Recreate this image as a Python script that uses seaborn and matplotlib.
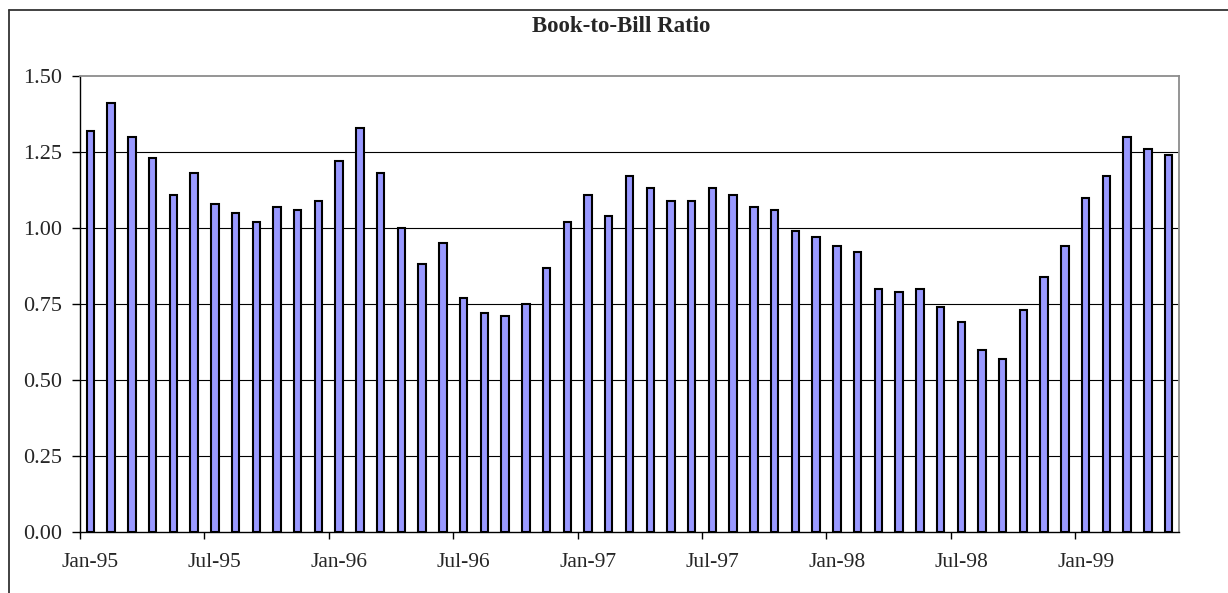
import matplotlib
matplotlib.use("Agg")
import matplotlib.pyplot as plt
from matplotlib.lines import Line2D
from matplotlib.ticker import FixedLocator, FormatStrFormatter
import pandas as pd
import seaborn as sns

# Monthly book-to-bill ratio, Jan-95 through May-99
years = ["95", "96", "97", "98", "99"]
month_names = ["Jan", "Feb", "Mar", "Apr", "May", "Jun",
               "Jul", "Aug", "Sep", "Oct", "Nov", "Dec"]
months = [f"{m}-{y}" for y in years for m in month_names][:53]

ratio = [
    1.32, 1.41, 1.30, 1.23, 1.11, 1.18, 1.08, 1.05, 1.02, 1.07, 1.06, 1.09,   # 1995
    1.22, 1.33, 1.18, 1.00, 0.88, 0.95, 0.77, 0.72, 0.71, 0.75, 0.87, 1.02,   # 1996
    1.11, 1.04, 1.17, 1.13, 1.09, 1.09, 1.13, 1.11, 1.07, 1.06, 0.99, 0.97,   # 1997
    0.94, 0.92, 0.80, 0.79, 0.80, 0.74, 0.69, 0.60, 0.57, 0.73, 0.84, 0.94,   # 1998
    1.10, 1.17, 1.30, 1.26, 1.24,                                             # 1999
]

y_ticks = [0.00, 0.25, 0.50, 0.75, 1.00, 1.25, 1.50]
title = "Book-to-Bill Ratio"

df = pd.DataFrame({"month": months, "ratio": ratio})

sns.set_style("white")
plt.rcParams["font.family"] = ["Liberation Serif", "DejaVu Serif"]

W, H = 1228, 593
fig = plt.figure(figsize=(W / 100, H / 100), dpi=100)
ax = fig.add_axes([80 / W, 1 - 532 / H, (1179 - 80) / W, (532 - 76) / H])

sns.barplot(data=df, x="month", y="ratio", order=months, color="#9999FF",
            saturation=1, edgecolor="black", linewidth=1.5, width=0.36,
            ax=ax, zorder=3)

ax.set_xlim(-0.5, len(months) - 0.5)
ax.set_ylim(0, 1.5)

# y axis
ax.yaxis.set_major_locator(FixedLocator(y_ticks))
ax.yaxis.set_major_formatter(FormatStrFormatter("%.2f"))
ax.tick_params(axis="y", which="major", direction="out", length=6, width=1,
               color="black", pad=7, labelsize=16, left=True)

# x axis: labels under every sixth month, tick marks on the slot boundaries
label_pos = list(range(0, len(months), 6))
ax.set_xticks(label_pos)
ax.set_xticklabels([months[i] for i in label_pos])
ax.set_xticks([i - 0.5 for i in label_pos], minor=True)
ax.tick_params(axis="x", which="major", length=0, pad=15, labelsize=15.5)
ax.tick_params(axis="x", which="minor", direction="out", length=5, width=1,
               color="black", bottom=True)

ax.set_xlabel("")
ax.set_ylabel("")

# horizontal gridlines
for v in y_ticks[1:-1]:
    ax.axhline(v, color="black", linewidth=0.8, zorder=1)

for side in ["left", "bottom"]:
    ax.spines[side].set_color("black")
    ax.spines[side].set_linewidth(1.0)
    ax.spines[side].set_visible(True)
for side in ["top", "right"]:
    ax.spines[side].set_color("#8c8c8c")
    ax.spines[side].set_linewidth(1.3)
    ax.spines[side].set_visible(True)

fig.text(621 / W, 1 - 27 / H, title, ha="center", va="center",
         fontsize=16.5, fontweight="bold")

# outer chart frame
frame_x = 8.5 / W
frame_y = 1 - 9.5 / H
fig.add_artist(Line2D([frame_x, frame_x], [0, frame_y], transform=fig.transFigure,
                      color="#333333", linewidth=1.3))
fig.add_artist(Line2D([frame_x, 1], [frame_y, frame_y], transform=fig.transFigure,
                      color="#333333", linewidth=1.3))

fig.savefig("out.png", dpi=100, facecolor="white")
